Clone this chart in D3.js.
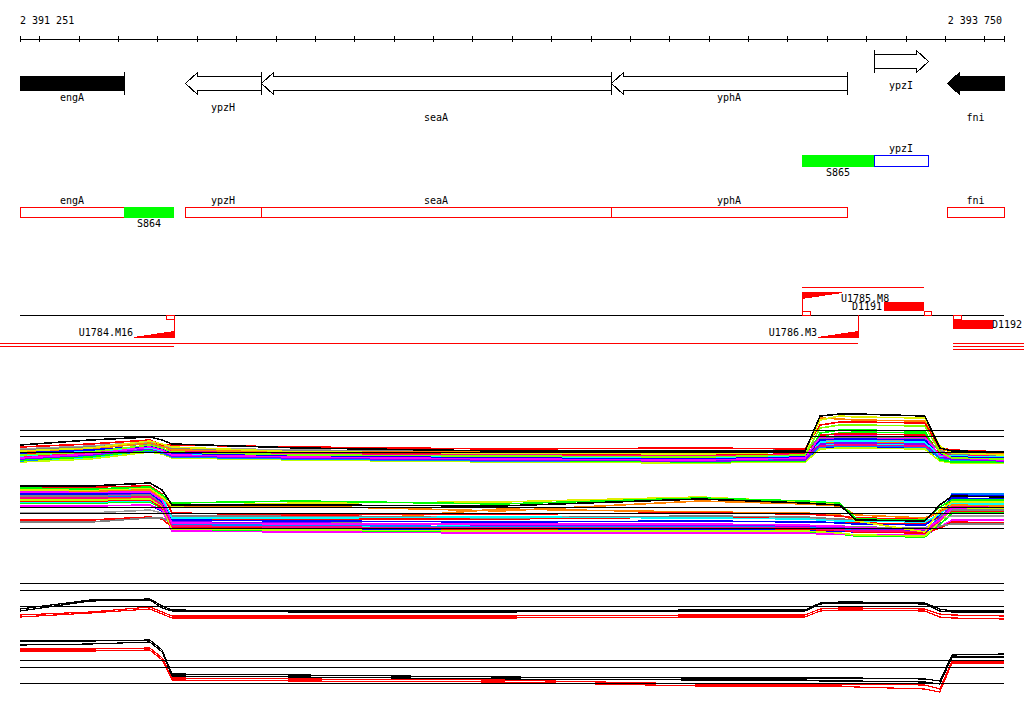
<!DOCTYPE html>
<html><head><meta charset="utf-8">
<script src="https://cdn.jsdelivr.net/npm/d3@7"></script>
<style>
body{margin:0;background:#fff}
svg{display:block}
text{font-family:"DejaVu Sans Mono",monospace;font-size:10px;fill:#000}
</style>
</head><body>
<svg id="chart" width="1024" height="714"></svg>
<script>
// ---------------- DATA ----------------
const viewStart = 2391251, viewEnd = 2393750;
const tickValues = d3.range(2391300, 2393701, 100);

const genes = [
  {name:"engA", start:2390900, end:2391515, strand:"-"},
  {name:"ypzH", start:2391670, end:2391863, strand:"-"},
  {name:"seaA", start:2391863, end:2392753, strand:"-"},
  {name:"yphA", start:2392753, end:2393352, strand:"-"},
  {name:"ypzI", start:2393421, end:2393558, strand:"+"},
  {name:"fni",  start:2393604, end:2394100, strand:"-"}
];

const plusUnits = [
  {name:"S865", start:2393237, end:2393421, type:"S"},
  {name:"ypzI", start:2393421, end:2393558, type:"gene"}
];
const minusUnits = [
  {name:"engA", start:2390900, end:2391515, type:"gene"},
  {name:"S864", start:2391515, end:2391642, type:"S"},
  {name:"ypzH", start:2391670, end:2391863, type:"gene"},
  {name:"seaA", start:2391863, end:2392753, type:"gene"},
  {name:"yphA", start:2392753, end:2393352, type:"gene"},
  {name:"fni",  start:2393604, end:2394100, type:"gene"}
];

const upshifts = [
  {name:"U1784.M16", start:2391541, end:2391642, strand:"-"},
  {name:"U1785.M8",  start:2393237, end:2393339, strand:"+"},
  {name:"U1786.M3",  start:2393278, end:2393379, strand:"-"}
];
const downshifts = [
  {name:"D1191", start:2393445, end:2393547, strand:"+"},
  {name:"D1192", start:2393620, end:2393722, strand:"-"}
];
const markers = [
  {start:2391622, end:2391642, strand:"-"},
  {start:2393237, end:2393257, strand:"+"},
  {start:2393547, end:2393565, strand:"+"},
  {start:2393620, end:2393640, strand:"-"}
];
const spans = [
  {start:2393237, end:2393547, strand:"+", row:0},
  {start:2391200, end:2393379, strand:"-", row:0},
  {start:2391200, end:2391642, strand:"-", row:1},
  {start:2393620, end:2393801, strand:"-", row:0},
  {start:2393620, end:2393801, strand:"-", row:1},
  {start:2393620, end:2393801, strand:"-", row:2}
];

// probe positions shared by all expression profiles
const probePos = [2391251, 2391429, 2391581, 2391612, 2391637, 2391962, 2392470, 2392978,
                  2393245, 2393283, 2393333, 2393374, 2393549, 2393587, 2393618, 2393750];

// panel 1 (upper strand, conditions)
const p1Refs = [10, 8.5, 4.6];
const p1Series = [
  [6.25,7.5,8.25,7.5,6.5,5.5,4.75,4.75,4.75,13.5,14,14,13.5,5.5,4.75,4.5],
  [4.75,5.5,7.25,6.5,5.75,4.5,4.25,4,4.5,12.5,13.5,13.25,13,6,4.25,3.75],
  [5.75,6.5,7.5,6.25,6.25,5.75,5.25,5.5,5.25,11.25,12,12,11.75,5.5,5,4.5],
  [3.75,4.5,6.25,5.5,4.5,3.75,3.5,3.25,3.75,10.5,11.25,11.25,11,4.5,3,2.75],
  [3,4,5.75,5,3.75,3.25,2.75,2.5,3,8.25,8.5,8.5,8.25,3.75,3,2.5],
  [4.25,5,6,5.25,4.25,3.5,3,2.75,3.25,7.5,7.75,7.75,7.5,4,3.25,3],
  [3.5,4.75,5.5,4.75,4,3.75,3.25,3,3.5,7,7.25,7.25,7,3.5,3.5,3.25],
  [4.5,5.25,6.75,6,5,4.5,4.5,4.25,4.5,13,12.75,12.5,12.25,5.25,4.5,4],
  [5,5.75,6.5,5.75,5.25,4.75,4.75,4.75,5,8,8.25,8.25,8,4.75,4,3.75],
  [2.75,3.75,5.25,4.5,3.5,3,2.5,2.25,2.5,6.5,6.75,6.75,6.5,3.25,2.75,2.25],
  [3.25,4.25,6,5.25,4.75,4,3.75,3.5,3.75,6,6.25,6.25,6,3.75,3.75,3.5],
  [2.5,3.25,5,4.5,3.75,3,2.5,2,2.25,9.25,10,10,9.75,2.5,2,2],
  [2.25,3.5,4.75,4.25,3.25,2.75,2.25,2.25,2.75,5.75,6,6,5.75,3,2.5,2.25],
  [2,2.75,4.5,4,3,2.5,2,1.75,2,5.25,5.5,5.5,5.25,2.25,1.75,1.75],
  [4,4.75,5.75,5,4.5,4.25,4,3.75,4,8.75,9,9,8.75,4.5,4,3.5],
  [3.75,4.5,5.5,4.75,4.25,3.75,3.5,3.25,3.5,7.75,8,8,7.75,3.5,3.25,2.75],
  [5.25,6,7,6,5.5,5,4.5,4.5,4.75,7.25,7.5,7.5,7.25,5,4.75,4.25],
  [2.5,3,5,4.25,3.25,2.75,2.5,2.5,3,6.25,6.5,6.5,6.25,2.75,3.5,3.75],
  [3.25,4,5.25,4.75,4,3.5,3.25,3,3.25,6.75,7,7,6.75,3.25,3,2.5],
  [3,3.75,5,4.5,3.5,3,2.75,2.5,2.75,5.5,5.75,5.75,5.5,3,2.5,2.5],
  [3.5,4.25,5.5,5,4,3.25,3,2.75,3,8.5,9.25,9.5,9.25,2.75,2,2.25]
];

// panel 2 (lower strand, conditions)
const p2Refs = [9.4, 7.9, 4.2];
const p2Series = [
  [14.75,14.75,15.5,13.75,10,10,9.75,11.5,10.5,10.25,10,6.25,6,10,12.25,12],
  [14.25,14,14.5,12.5,10.5,11,10.25,11.75,11,10.75,10.5,6.5,6.25,9.5,11.25,11.25],
  [13.75,13.75,14.25,12,9.75,10.5,10.75,12,10.75,10.5,10.25,6,3.25,8.75,10.75,10.75],
  [13.75,13.5,13.75,11.75,9.5,9.75,8.5,11,10.25,10,9.75,7.5,6.75,8.25,10,9.75],
  [14.5,14.5,14.75,12.75,8,7.5,7.75,8,7.75,7.5,7.25,6.75,6.5,8.25,11.25,11],
  [14,14,14,12,6.75,6.75,7,6.75,6.5,6.25,6,6,5.75,7.75,10.25,10.25],
  [13.25,13.25,13.25,11.25,5.5,5.25,5.25,5.25,5,4.75,4.75,4.25,4,6.25,9.25,9.5],
  [12.75,12.75,13,10.75,6.25,6,5.75,6,5.75,5.75,5.5,5.25,5,7.5,12.5,12.25],
  [12.25,12.25,12.5,10.5,7.25,7.25,6.75,7.25,7,6.75,6.5,6.25,6,7.25,8.75,8.75],
  [12.5,12.5,12.75,10.75,5.75,5.5,5,5,4.75,4.5,4.25,4,3.75,6.5,10.5,10.5],
  [11.75,11.75,12,10,4.75,4.5,4.25,4.25,4.25,4,3.75,3.5,3.5,6,9.75,9.75],
  [12,12,12.25,10.25,5,5,4.5,4.5,4.5,4.25,4,3.75,3.75,6.75,12.75,12.75],
  [11.25,11.25,11.5,9.75,4,3.75,3.5,3.5,3.5,3.25,3,2.5,2.25,5.75,9,9],
  [11,11,11.25,9.25,6.25,6.5,6.5,7,6.5,6.25,6,5.5,5.25,7,8.5,8.5],
  [8,8,8.75,8,7,7.25,7,7,6.75,6.5,6.5,6,5.75,6.5,7.25,7.25],
  [5.75,5.75,6.75,6.75,5.5,5.5,5.25,5,5,4.75,4.75,4.5,4.25,4.75,5.25,5.25],
  [6.25,6.25,7,6.5,4.5,4.25,4,4.25,4,3.75,3.75,3.25,3,4.25,5.75,5.5],
  [9.75,9.75,10,8.75,3.5,3.25,3,3,3,2.75,2.75,2.5,2.5,4.5,6.25,6.25],
  [9.75,9.75,10,8.5,4.25,4,3.75,3.75,3.75,3.5,3.5,3.25,3.25,5.5,11.75,11.5],
  [11.5,11.5,11.75,10,5.25,5.25,9,8.25,8,7.75,7.5,6.25,5.75,7,9.5,9.25],
  [10.75,10.75,11,9.5,4.75,4.5,4.75,4.75,4.75,4.5,4.5,4.5,4.25,6,10.75,10.75],
  [10.5,10.5,10.75,9.25,3.75,3.5,3.25,3.25,3.25,3,2.75,2.25,2,5,8,8]
];

// panel 3 (upper strand, summary)
const p3Refs = [10.4, 8.7, 4.75];
const p3Series = [
  [4,6.25,6.5,4.75,3.75,3.5,3.5,3.75,3.75,5.5,5.75,5.75,5.5,4,3.5,3.5],
  [3.5,6,6.25,4.25,3.5,3.25,3.25,3.5,3.5,5.25,5.5,5.5,5.25,3.5,3.25,3.25],
  [2.5,3.25,4.5,3.25,2.25,2.25,2.25,2.5,2.5,4,4.25,4.25,4,2.75,2.5,2.25],
  [2,3,4,2.75,1.75,1.75,1.75,2,2,3.5,3.75,3.75,3.5,2,1.75,1.5]
];

// panel 4 (lower strand, summary)
const p4Refs = [10, 8.2, 4.2];
const p4Series = [
  [14.75,14.75,15,12.5,6.5,6.25,5.75,5.5,5.5,5.5,5.5,5.5,5.25,4.75,11.25,11.5],
  [13.75,14,14.5,12,6,5.75,5.25,5,5,4.75,4.75,4.75,4.5,4,10.75,10.75],
  [12.75,12.75,13,10.5,5.5,5.25,5,4,4,4,4,4,3.75,2.75,9.75,9.75],
  [12.25,12.25,12.5,10,5,4.75,4.5,3.5,3.5,3.5,3.5,3.25,2.75,2,9.25,9.25]
];

// ---------------- STYLE ----------------
const p1Colors = ["#000000","#e0f000","#ff0000","#80ff00","#ff00ff","#0000ff","#00ffff","#ff8000",
  "#808080","#8000ff","#ff0080","#00ff00","#0080ff","#c0ff00","#ff0000","#ff00ff","#a0a0a0",
  "#00ffff","#ff8000","#0000ff","#00ff00"];
const p2Colors = ["#000000","#00ff00","#e0f000","#ff8000","#ff0000","#00ffff","#ff00ff","#0000ff",
  "#808080","#8000ff","#ff0080","#0080ff","#c0ff00","#ff0000","#a0a0a0","#808080","#ff0000",
  "#ff00ff","#0000ff","#ff8000","#00ffff","#00ff00"];
const sumColors = ["#000000","#000000","#ff0000","#ff0000"];

// ---------------- DRAW ----------------
const svg = d3.select("#chart");
const x = d3.scaleLinear().domain([viewStart, viewEnd]).range([20, 1004]);
const px = v => Math.round(x(Math.max(viewStart, Math.min(viewEnd, v))));
const pxFree = v => Math.round(x(v));
const fmt = d3.formatLocale({thousands:" ", grouping:[3], decimal:".", currency:["",""]}).format(",");

// axis
const axisG = svg.append("g").attr("transform","translate(0,38.5)").attr("shape-rendering","crispEdges");
axisG.call(d3.axisBottom(x).tickValues([viewStart, ...tickValues, viewEnd]).tickSize(6).tickSizeOuter(0).tickFormat(""));
axisG.select(".domain").attr("stroke","#000");
axisG.selectAll(".tick line").attr("y1",-3).attr("y2",3).attr("stroke","#000");
svg.append("text").attr("x",20).attr("y",24).text(fmt(viewStart));
svg.append("text").attr("x",1002).attr("y",24).attr("text-anchor","end").text(fmt(viewEnd));

// genes
const laneY = {"+":61, "-":83};
const gG = svg.append("g").attr("shape-rendering","crispEdges");
genes.forEach((g,i) => {
  const cy = laneY[g.strand];
  const clipS = g.start < viewStart, clipE = g.end > viewEnd;
  const filled = clipS || clipE;
  const x0 = px(g.start), x1 = px(g.end);
  const H = 11, S = 7, L = 12;
  let pts, barX = null;
  if (g.strand === "-") {
    if (clipS) pts = [[x0,cy-S],[x1,cy-S],[x1,cy+S],[x0,cy+S]];
    else pts = [[x0,cy],[x0+L,cy-H],[x0+L,cy-S],[x1,cy-S],[x1,cy+S],[x0+L,cy+S],[x0+L,cy+H]];
    if (!clipE) barX = x1;
  } else {
    if (clipE) pts = [[x0,cy-S],[x1,cy-S],[x1,cy+S],[x0,cy+S]];
    else pts = [[x1,cy],[x1-L,cy-H],[x1-L,cy-S],[x0,cy-S],[x0,cy+S],[x1-L,cy+S],[x1-L,cy+H]];
    if (!clipS) barX = x0;
  }
  gG.append("polygon")
    .attr("points", pts.map(p => (p[0]+0.5)+","+(p[1]+0.5)).join(" "))
    .attr("fill", filled ? "#000" : "#fff")
    .attr("stroke","#000").attr("stroke-width",1);
  if (barX !== null) gG.append("rect").attr("x",barX).attr("y",cy-H).attr("width",1).attr("height",2*H+1).attr("fill","#000");
  const row = i % 3;
  svg.append("text").attr("x",(x0+x1)/2).attr("y",cy+18+row*10)
    .attr("text-anchor","middle").text(g.name);
});

// outlines drawn as filled frames
function frame(g, x0, y0, w, h, color, t){
  g.append("rect").attr("x",x0).attr("y",y0).attr("width",w+1).attr("height",t).attr("fill",color);
  g.append("rect").attr("x",x0).attr("y",y0+h+1-t).attr("width",w+1).attr("height",t).attr("fill",color);
  g.append("rect").attr("x",x0).attr("y",y0).attr("width",t).attr("height",h+1).attr("fill",color);
  g.append("rect").attr("x",x0+w+1-t).attr("y",y0).attr("width",t).attr("height",h+1).attr("fill",color);
}

// shift track
const lineY = 315;
const sG = svg.append("g").attr("shape-rendering","crispEdges");
sG.append("rect").attr("x",20).attr("y",lineY).attr("width",984).attr("height",1).attr("fill","#000");
spans.forEach(s => {
  const sign = s.strand === "+" ? -1 : 1;
  const y = lineY + sign*(28 + s.row*3);
  const a = pxFree(s.start), b = pxFree(s.end);
  sG.append("rect").attr("x",a).attr("y",y).attr("width",b-a).attr("height",1).attr("fill","#ff0000");
});
upshifts.forEach(u => {
  const x0 = px(u.start), x1 = px(u.end);
  const sign = u.strand === "+" ? -1 : 1;
  const outer = lineY + sign*23;
  const anchor = u.strand === "+" ? x0 : x1;
  const far = u.strand === "+" ? x1 : x0;
  sG.append("polygon")
    .attr("points", [[anchor,outer],[far,outer],[far,outer-sign*1],[anchor,outer-sign*7]].map(p=>p.join(",")).join(" "))
    .attr("fill","#ff0000");
  sG.append("rect").attr("x",anchor).attr("y",Math.min(lineY,outer)).attr("width",1)
    .attr("height",Math.abs(outer-lineY)).attr("fill","#ff0000");
  const t = svg.append("text").text(u.name);
  if (u.strand === "+") t.attr("x",far-1).attr("y",outer+10);
  else t.attr("x",far-1).attr("y",outer-2).attr("text-anchor","end");
});
downshifts.forEach(d => {
  const x0 = px(d.start), x1 = px(d.end);
  const top = d.strand === "+" ? lineY-13 : lineY+5;
  sG.append("rect").attr("x",x0).attr("y",top).attr("width",x1-x0).attr("height",9).attr("fill","#ff0000");
  const t = svg.append("text").text(d.name);
  if (d.strand === "+") t.attr("x",x0-2).attr("y",top+8).attr("text-anchor","end");
  else t.attr("x",x1-1).attr("y",top+8);
});
markers.forEach(m => {
  const x0 = px(m.start), x1 = px(m.end);
  const y = m.strand === "+" ? lineY-4 : lineY;
  frame(sG, x0, y, x1-x0, 4, "#ff0000", 1);
});

// profile panels
function drawPanel(base, refs, series, colors, width){
  const y = d3.scaleLinear().domain([0,16]).range([base, base-64]);
  const g = svg.append("g").attr("shape-rendering","crispEdges");
  const line = d3.line().x((d,i) => x(probePos[i])).y(d => y(d));
  series.forEach((s,i) => {
    g.append("path").attr("d", line(s)).attr("fill","none")
      .attr("stroke", colors[i % colors.length]).attr("stroke-width", width);
  });
  refs.forEach(r => {
    const yy = Math.round(y(r));
    g.append("rect").attr("x",20).attr("y",yy).attr("width",984).attr("height",1).attr("fill","#000");
  });
}
drawPanel(470, p1Refs, p1Series.slice().reverse(), p1Colors.slice().reverse(), 1.6);
drawPanel(545, p2Refs, p2Series.slice().reverse(), p2Colors.slice().reverse(), 1.6);
drawPanel(625, p3Refs, p3Series, sumColors, 1.2);
drawPanel(700, p4Refs, p4Series, sumColors, 1.2);

// transcription units (drawn last)
function drawUnits(units, top, h, geneColor){
  const g = svg.append("g").attr("shape-rendering","crispEdges");
  units.forEach(u => {
    const x0 = px(u.start), x1 = px(u.end);
    if (u.type === "S") {
      g.append("rect").attr("x",x0).attr("y",top).attr("width",x1-x0).attr("height",h+1).attr("fill","#00ff00");
      svg.append("text").attr("x",(x0+x1)/2).attr("y",top+h+10).attr("text-anchor","middle").text(u.name);
    } else {
      frame(g, x0, top, x1-x0, h, geneColor, 1);
      svg.append("text").attr("x",(x0+x1)/2).attr("y",top-3).attr("text-anchor","middle").text(u.name);
    }
  });
}
drawUnits(plusUnits, 155, 11, "#0000ff");
drawUnits(minusUnits, 207, 10, "#ff0000");
</script>
</body></html>
